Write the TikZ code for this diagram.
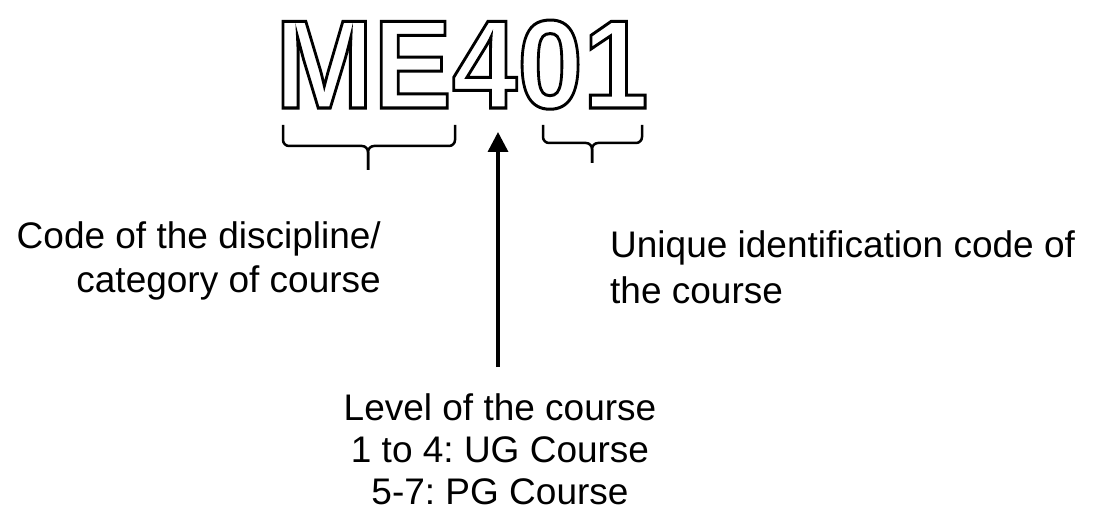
\documentclass[tikz,border=0pt]{standalone}
\usepackage{fontspec}
\setmainfont{Liberation Sans}
\usepackage{graphicx}
\usetikzlibrary{arrows.meta}
\frenchspacing
\newcommand{\outlined}[1]{%
  \special{pdf:literal direct 1 Tr 3 w}#1\special{pdf:literal direct 0 Tr}}
\tikzset{
  codetext/.style={
    inner sep=0pt,
    font=\fontsize{126pt}{130pt}\selectfont\bfseries
    },
  note/.style={
    inner sep=0pt,
    font=\fontsize{37pt}{44pt}\selectfont
    },
  brace/.style={
    line width=2.5pt,
    rounded corners=6pt
    },
  arrow/.style={line width=3.5pt,-{Triangle[width=20pt,length=20pt]}}
}
\begin{document}
\begin{tikzpicture}[x=1pt,y=-1pt]
\useasboundingbox (0,0) rectangle (1093,508);
% course code
\node (code) [codetext,anchor=base west] at (275,108)
  {\scalebox{0.935}[1]{\outlined{ME401}}};
% braces
\coordinate (bl1) at (283,125);
\coordinate (bl2) at (455,125);
\coordinate (blm) at (368,146);
\coordinate (blt) at (368,170);
\coordinate (br1) at (543,125);
\coordinate (br2) at (642,125);
\coordinate (brm) at (592,143);
\coordinate (brt) at (592,163);
\draw[brace] (bl1) |- (blm) -- (blt);
\draw[brace] (bl2) |- (blm) -- (blt);
\draw[brace] (br1) |- (brm) -- (brt);
\draw[brace] (br2) |- (brm) -- (brt);
% arrow
\coordinate (afoot) at (498,367);
\coordinate (atip) at (498,132);
\draw[arrow] (afoot) -- (atip);
% notes
\node (discipline) [note,anchor=base east,align=right] at (381,292)
  {Code of the discipline/\\category of course};
\node (unique) [note,anchor=base west,align=left,
  font=\fontsize{37pt}{46pt}\selectfont] at (610,303)
  {Unique identification code of\\the course};
\node (level) [note,anchor=base,align=center,
  font=\fontsize{37pt}{42pt}\selectfont] at (500,504)
  {Level of the course\\1 to 4: UG Course\\5-7: PG Course};
\end{tikzpicture}
\end{document}
